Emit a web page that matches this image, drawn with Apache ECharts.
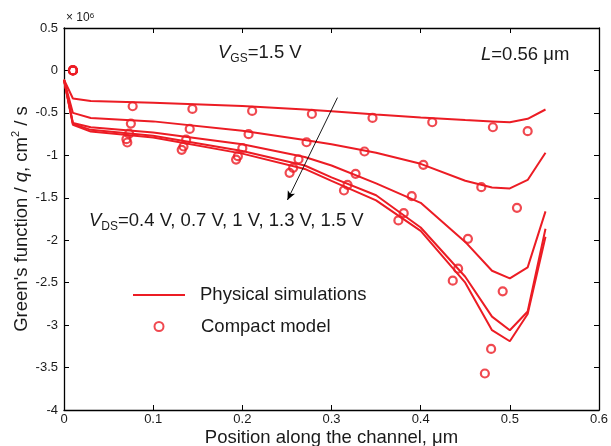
<!DOCTYPE html>
<html>
<head>
<meta charset="utf-8">
<script src="https://cdn.jsdelivr.net/npm/echarts@6/dist/echarts.min.js"></script>
<style>html,body{margin:0;padding:0;background:#fff}#c{width:611px;height:446px}</style>
</head>
<body>
<div id="c"></div>
<script>
// Physical simulations (x in um, y in 1e6 cm^2/s)
const simX  = [0, 0.01, 0.03, 0.1, 0.2, 0.27, 0.3, 0.35, 0.4, 0.45, 0.48, 0.5, 0.52, 0.54];
const sim04 = [-0.11, -0.33, -0.36, -0.38, -0.42, -0.46, -0.48, -0.52, -0.555, -0.585, -0.60, -0.61, -0.57, -0.46];
const sim07 = [-0.11, -0.50, -0.56, -0.60, -0.71, -0.82, -0.87, -0.97, -1.10, -1.30, -1.38, -1.39, -1.29, -0.97];
const sim10 = [-0.11, -0.62, -0.67, -0.73, -0.87, -1.02, -1.12, -1.33, -1.56, -2.02, -2.36, -2.45, -2.32, -1.66];
const sim13 = [-0.11, -0.63, -0.70, -0.77, -0.95, -1.12, -1.26, -1.47, -1.85, -2.43, -2.90, -3.06, -2.84, -1.865];
const sim15 = [-0.11, -0.64, -0.72, -0.79, -0.98, -1.16, -1.30, -1.53, -1.89, -2.50, -3.06, -3.19, -2.87, -1.96];

// Compact model
const cmX04 = [0.01, 0.077, 0.144, 0.211, 0.278, 0.346, 0.413, 0.481, 0.520];
const cm04  = [0, -0.422, -0.453, -0.477, -0.512, -0.559, -0.610, -0.669, -0.716];
const cmX07 = [0.01, 0.075, 0.141, 0.207, 0.272, 0.337, 0.403, 0.468, 0.508];
const cm07  = [0, -0.626, -0.689, -0.751, -0.846, -0.955, -1.112, -1.375, -1.618];
const cmX10 = [0.01, 0.073, 0.137, 0.200, 0.263, 0.327, 0.390, 0.453, 0.492];
const cm10  = [0, -0.744, -0.814, -0.916, -1.046, -1.218, -1.481, -1.983, -2.602];
const cmX13 = [0.01, 0.070, 0.134, 0.195, 0.257, 0.318, 0.381, 0.442, 0.479];
const cm13  = [0, -0.810, -0.896, -1.010, -1.147, -1.347, -1.681, -2.335, -3.280];
const cmX15 = [0.01, 0.071, 0.132, 0.193, 0.253, 0.314, 0.375, 0.436, 0.472];
const cm15  = [0, -0.849, -0.935, -1.050, -1.206, -1.414, -1.767, -2.476, -3.570];

const arrowFrom = [0.3067, -0.32];
const arrowTo   = [0.2506, -1.526];

const RED = '#ec1c24';
const TXT = '#1a1a1a';
const FONT = '"Liberation Sans", Arial, sans-serif';
const zip = (xs, ys) => xs.map((x, i) => [x, ys[i]]);

const simSets = [sim04, sim07, sim10, sim13, sim15];
const cmSets = [[cmX04, cm04], [cmX07, cm07], [cmX10, cm10], [cmX13, cm13], [cmX15, cm15]];

const series = [];
simSets.forEach((ys, i) => {
  const s = {
    name: 'Physical simulations', type: 'line', data: zip(simX, ys),
    symbol: 'none', showSymbol: false, lineStyle: { color: RED, width: 2 }, itemStyle: { color: RED },
    silent: true, z: 2
  };
  if (i === 0) {
    s.markLine = {
      silent: true, symbol: ['none', 'arrow'], symbolSize: [6, 9],
      label: { show: false },
      lineStyle: { color: '#000', width: 0.9, type: 'solid' },
      data: [[{ coord: arrowFrom }, { coord: arrowTo }]]
    };
  }
  series.push(s);
});
cmSets.forEach(([xs, ys]) => {
  series.push({
    name: 'Compact model', type: 'scatter', data: zip(xs, ys),
    symbol: 'circle', symbolSize: 8,
    itemStyle: { color: 'rgba(255,255,255,0)', borderColor: RED, borderWidth: 2.2 },
    silent: true, z: 3
  });
});

const axisLine = { show: true, onZero: false, lineStyle: { color: '#000', width: 1.3 } };
const axisTick = { show: true, inside: true, length: 5, lineStyle: { color: '#000', width: 1 } };
const big = 18.5;

const option = {
  animation: false,
  backgroundColor: '#fff',
  textStyle: { fontFamily: FONT },
  grid: { left: 64, right: 12, top: 28, bottom: 36, containLabel: false, outerBoundsMode: 'none' },
  xAxis: [
    {
      type: 'value', min: 0, max: 0.6, interval: 0.1, position: 'bottom',
      axisLine, axisTick, splitLine: { show: false },
      axisLabel: { color: TXT, fontSize: 13, margin: 3, fontFamily: FONT },
      name: 'Position along the channel, μm', nameLocation: 'middle', nameGap: 18, nameMoveOverlap: false,
      nameTextStyle: { color: TXT, fontSize: big, fontFamily: FONT, verticalAlign: 'top' }
    },
    {
      type: 'value', min: 0, max: 0.6, interval: 0.1, position: 'top',
      axisLine, axisTick, splitLine: { show: false }, axisLabel: { show: false }
    }
  ],
  yAxis: [
    {
      type: 'value', min: -4, max: 0.5, interval: 0.5, position: 'left',
      axisLine, axisTick, splitLine: { show: false },
      axisLabel: { color: TXT, fontSize: 13, margin: 6, fontFamily: FONT },
      name: "Green's function / {i|q}, cm{sup|2} / s", nameLocation: 'middle', nameGap: 30, nameMoveOverlap: false,
      nameTextStyle: {
        color: TXT, fontSize: big, fontFamily: FONT, lineHeight: 24,
        rich: {
          i: { fontStyle: 'italic', fontSize: big, fontFamily: FONT, color: TXT, lineHeight: 24 },
          sup: { fontSize: 11, fontFamily: FONT, color: TXT, verticalAlign: 'top', lineHeight: 14 }
        }
      }
    },
    {
      type: 'value', min: -4, max: 0.5, interval: 0.5, position: 'right',
      axisLine, axisTick, splitLine: { show: false }, axisLabel: { show: false }
    }
  ],
  legend: [
    {
      data: [{ name: 'Physical simulations', icon: 'rect' }], orient: 'vertical', left: 133, top: 285,
      padding: 0, itemWidth: 52, itemHeight: 2, selectedMode: false,
      itemStyle: { color: RED, borderWidth: 0 },
      textStyle: { color: TXT, fontSize: big, fontFamily: FONT, padding: [0, 0, 0, 10], lineHeight: 20 }
    },
    {
      data: ['Compact model'], orient: 'vertical', left: 153.5, top: 316.5,
      padding: 0, itemWidth: 9, itemHeight: 9, selectedMode: false,
      textStyle: { color: TXT, fontSize: big, fontFamily: FONT, padding: [0, 0, 0, 32.5], lineHeight: 20 }
    }
  ],
  graphic: [
    {
      type: 'text', left: 66, top: 11.5,
      style: {
        text: '× 10{sup|6}', fill: TXT, font: '12px ' + FONT,
        rich: { sup: { fontSize: 8, fontFamily: FONT, fill: TXT, verticalAlign: 'top', lineHeight: 8 } }
      }
    },
    {
      type: 'text', left: 218, top: 43,
      style: {
        text: '{i|V}{sub|GS}{n|=1.5 V}', fill: TXT,
        rich: {
          i: { fontStyle: 'italic', fontSize: big, fontFamily: FONT, fill: TXT, lineHeight: 24 },
          n: { fontSize: big, fontFamily: FONT, fill: TXT, lineHeight: 24 },
          sub: { fontSize: 12, fontFamily: FONT, fill: TXT, verticalAlign: 'bottom', lineHeight: 12 }
        }
      }
    },
    {
      type: 'text', left: 481, top: 45.5,
      style: {
        text: '{i|L}{n|=0.56 μm}', fill: TXT,
        rich: {
          i: { fontStyle: 'italic', fontSize: big, fontFamily: FONT, fill: TXT, lineHeight: 24 },
          n: { fontSize: big, fontFamily: FONT, fill: TXT, lineHeight: 24 }
        }
      }
    },
    {
      type: 'text', left: 89, top: 211.5,
      style: {
        text: '{i|V}{sub|DS}{n|=0.4 V, 0.7 V, 1 V, 1.3 V, 1.5 V}', fill: TXT,
        rich: {
          i: { fontStyle: 'italic', fontSize: big, fontFamily: FONT, fill: TXT, lineHeight: 24 },
          n: { fontSize: big, fontFamily: FONT, fill: TXT, lineHeight: 24 },
          sub: { fontSize: 12, fontFamily: FONT, fill: TXT, verticalAlign: 'bottom', lineHeight: 12 }
        }
      }
    }
  ],
  series
};

const chart = echarts.init(document.getElementById('c'), null, { renderer: 'canvas' });
chart.setOption(option);
</script>
</body>
</html>
